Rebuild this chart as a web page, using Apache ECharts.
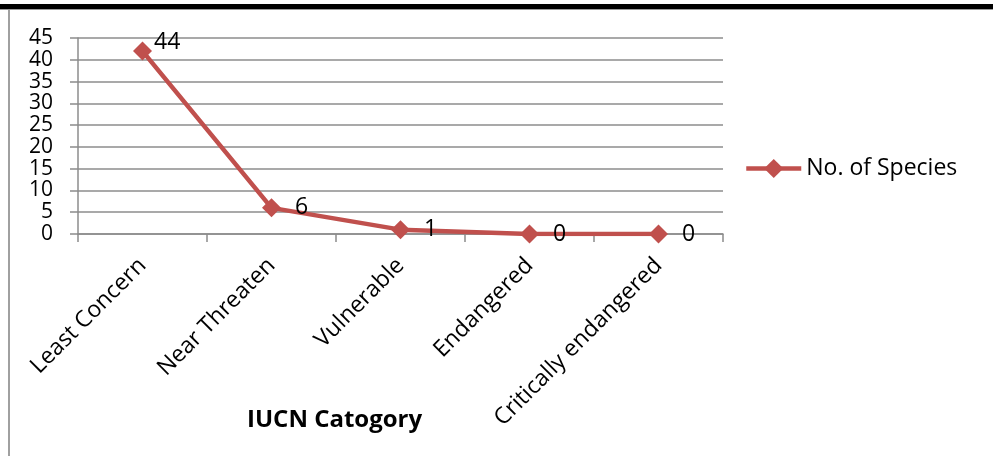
<!DOCTYPE html>
<html>
<head>
<meta charset="utf-8">
<script src="https://cdn.jsdelivr.net/npm/echarts@6/dist/echarts.min.js"></script>
<style>
html,body{margin:0;padding:0;background:#fff;}
#chart{width:993px;height:456px;}
</style>
</head>
<body>
<div id="chart"></div>
<script>
// ---- data ----
const categories = ['Least Concern', 'Near Threaten', 'Vulnerable', 'Endangered', 'Critically endangered'];
const seriesName = 'No. of Species';
const plottedValues = [42, 6, 1, 0, 0];   // where the markers sit in the picture
const labelValues = [44, 6, 1, 0, 0];     // the data labels shown
const yTicks = { min: 0, max: 45, interval: 5 };
const xTitle = 'IUCN Catogory';

const FONT = '"Open Sans", "DejaVu Sans", sans-serif';
const RED = '#c0504d';
const GRID_GRAY = '#8c8c8c';

const chart = echarts.init(document.getElementById('chart'), null, { renderer: 'canvas' });

const labelData = labelValues.map((v, i) => {
  const item = { value: v };
  if (i === 0) item.label = { offset: [-12, 0] };
  return item;
});

chart.setOption({
  animation: false,
  backgroundColor: '#fff',
  grid: { left: 78, top: 38, width: 645, height: 196, containLabel: false },
  xAxis: {
    type: 'category',
    data: categories,
    boundaryGap: true,
    axisLine: { show: true, lineStyle: { color: GRID_GRAY, width: 1.5 } },
    axisTick: { show: true, length: 8, interval: 0, lineStyle: { color: GRID_GRAY, width: 1.5 } },
    axisLabel: {
      show: true, interval: 0, rotate: 45, margin: 28,
      verticalAlign: 'middle',
      fontFamily: FONT, fontSize: 23, color: '#000'
    },
    splitLine: { show: false }
  },
  yAxis: {
    type: 'value',
    min: yTicks.min, max: yTicks.max, interval: yTicks.interval,
    axisLine: { show: true, lineStyle: { color: GRID_GRAY, width: 1.5 } },
    axisTick: { show: true, length: 8, lineStyle: { color: GRID_GRAY, width: 1.5 } },
    axisLabel: {
      margin: 25, fontFamily: FONT, fontSize: 21, color: '#000', lineHeight: 18,
      showMinLabel: true, showMaxLabel: true, hideOverlap: false
    },
    splitLine: { show: true, lineStyle: { color: GRID_GRAY, width: 1.5 } }
  },
  legend: {
    data: [seriesName],
    left: 744, top: 157,
    padding: 0,
    orient: 'vertical',
    itemWidth: 55, itemHeight: 24,
    lineStyle: { width: 4.5 },
    textStyle: { fontFamily: FONT, fontSize: 23, color: '#000' }
  },
  series: [
    {
      name: seriesName,
      type: 'line',
      data: plottedValues,
      symbol: 'diamond',
      symbolSize: 19,
      lineStyle: { color: RED, width: 4.5 },
      itemStyle: { color: RED },
      label: { show: false },
      z: 3
    },
    {
      name: 'labels',
      type: 'scatter',
      data: labelData,
      symbolSize: 1,
      itemStyle: { color: 'rgba(0,0,0,0)' },
      silent: true,
      label: {
        show: true, position: 'right', distance: 23,
        fontFamily: FONT, fontSize: 23, color: '#000', opacity: 1
      },
      z: 4
    }
  ],
  graphic: [
    { type: 'rect', shape: { x: 0, y: 4, width: 993, height: 5 }, style: { fill: '#000' }, silent: true },
    { type: 'rect', shape: { x: 0, y: 9, width: 993, height: 1 }, style: { fill: '#9a9a9a' }, silent: true },
    { type: 'rect', shape: { x: 8, y: 10, width: 2, height: 446 }, style: { fill: '#a0a0a0' }, silent: true },
    {
      type: 'text', left: 247, top: 408,
      style: { text: xTitle, fontFamily: FONT, fontSize: 24, fontWeight: 'bold', fill: '#000' },
      silent: true
    }
  ]
});
</script>
</body>
</html>
